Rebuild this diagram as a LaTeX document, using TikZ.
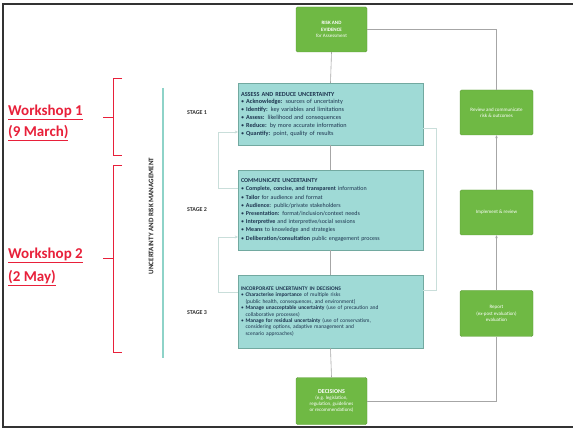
\documentclass[tikz,border=0pt]{standalone}
\usepackage{fontspec}
\setmainfont{Carlito}
\usetikzlibrary{arrows.meta}
\definecolor{grn}{HTML}{6FB944}
\definecolor{tealbox}{HTML}{9FDAD6}
\definecolor{tealline}{HTML}{8ED3C8}
\definecolor{navy}{HTML}{1E3550}
\definecolor{wsred}{HTML}{E8203A}
\definecolor{faint}{HTML}{C9DEDA}
\tikzset{
  greenbox/.style={draw=grn!85!black, line width=0.4pt, fill=grn, rounded corners=1.5pt,
    text=white, align=center, font=\fontsize{5}{6.2}\selectfont, inner sep=2pt},
  stagebox/.style={draw=tealline!80!black, line width=0.3pt, fill=tealbox, align=left,
    text=navy, font=\fontsize{6.2}{7.8}\selectfont, inner sep=3pt, anchor=center},
  conn/.style={draw=gray!70, line width=0.6pt},
  fb/.style={draw=faint, line width=0.8pt},
  redbr/.style={draw=wsred, line width=0.9pt},
  wstext/.style={text=wsred, font=\fontsize{15}{17}\selectfont\bfseries, anchor=west, inner sep=0pt},
  stagelbl/.style={font=\fontsize{6}{7}\selectfont\bfseries, text=black!80},
}
\begin{document}
\begin{tikzpicture}[x=1pt,y=-1pt]
\useasboundingbox (0,0) rectangle (573,430);
\fill[white] (0,0) rectangle (573,430);
% frame
\draw[black!80, line width=1.2pt] (573,4) -- (3,4) -- (3,427) -- (573,427);

% green boxes
\node[greenbox, minimum width=71pt, minimum height=45pt] (top) at (331.5,29.5)
  {\textbf{RISK AND}\\\textbf{EVIDENCE}\\for Assessment};
\node[greenbox, minimum width=71pt, minimum height=47pt] (bot) at (331.5,401)
  {{\fontsize{6}{7}\selectfont\textbf{DECISIONS}}\\(e.g. legislation,\\regulation, guidelines\\or recommendations)};
\node[greenbox, minimum width=73pt, minimum height=45pt] (r1) at (496.5,112.5)
  {Review and communicate\\risk \& outcomes};
\node[greenbox, minimum width=73pt, minimum height=45pt] (r2) at (496.5,212.5)
  {Implement \& review};
\node[greenbox, minimum width=73pt, minimum height=46pt] (r3) at (496.5,313.5)
  {Report\\(ex-post evaluation)\\evaluation};

% stage boxes
\node[stagebox, text width=179pt, minimum height=62pt] (s1) at (330.5,114)
  {\textbf{ASSESS AND REDUCE UNCERTAINTY}\\
   \textbullet\ \textbf{Acknowledge:} sources of uncertainty\\
   \textbullet\ \textbf{Identify:} key variables and limitations\\
   \textbullet\ \textbf{Assess:} likelihood and consequences\\
   \textbullet\ \textbf{Reduce:} by more accurate information\\
   \textbullet\ \textbf{Quantify:} point, quality of results\\[3pt]};
\node[stagebox, text width=179pt, minimum height=80pt, font=\fontsize{6}{8.2}\selectfont] (s2) at (330.5,210)
  {\textbf{COMMUNICATE UNCERTAINTY}\\
   \textbullet\ \textbf{Complete, concise, and transparent} information\\
   \textbullet\ \textbf{Tailor} for audience and format\\
   \textbullet\ \textbf{Audience:} public/private stakeholders\\
   \textbullet\ \textbf{Presentation:} format/inclusion/context needs\\
   \textbullet\ \textbf{Interpretive} and interpretive/social sessions\\
   \textbullet\ \textbf{Means} to knowledge and strategies\\
   \textbullet\ \textbf{Deliberation/consultation} public engagement process\\[2pt]};
\node[stagebox, text width=179pt, minimum height=73pt, font=\fontsize{5.5}{6.4}\selectfont] (s3) at (330.5,311.5)
  {\textbf{INCORPORATE UNCERTAINTY IN DECISIONS}\\
   \textbullet\ \textbf{Characterise importance} of multiple risks\\
   \phantom{\textbullet\ }(public health, consequences, and environment)\\
   \textbullet\ \textbf{Manage unacceptable uncertainty} (use of precaution and\\
   \phantom{\textbullet\ }collaborative processes)\\
   \textbullet\ \textbf{Manage for residual uncertainty} (use of conservatism,\\
   \phantom{\textbullet\ }considering options, adaptive management and\\
   \phantom{\textbullet\ }scenario approaches)\\[3pt]};

% main flow connectors
\draw[conn] (top.south) -- (s1.north);
\draw[conn] (s1.south) -- (s2.north);
\draw[conn] (s2.south) -- (s3.north);
\draw[conn] (s3.south) -- (bot.north);
\draw[conn] (bot.east) -| (r3.south);
\draw[conn, -{Stealth[length=3pt,width=2.5pt]}] (r3.north) -- (r2.south);
\draw[conn, -{Stealth[length=3pt,width=2.5pt]}] (r2.north) -- (r1.south);
\draw[conn] (r1.north) |- (top.east);

% faint feedback lines
\coordinate (l1) at (218,132);
\coordinate (l2) at (218,188);
\coordinate (l3) at (218,237);
\coordinate (l4) at (218,292);
\draw[fb, -{Stealth[length=3pt,width=3pt]}] (s2.west |- l2) -- (l2) -- (l1) -- (s1.west |- l1);
\draw[fb, -{Stealth[length=3pt,width=3pt]}] (s3.west |- l4) -- (l4) -- (l3) -- (s2.west |- l3);
\coordinate (q1) at (436,128);
\coordinate (q2) at (436,290);
\draw[fb] (s1.east |- q1) -- (q1) -- (q2) -- (s3.east |- q2);

% left teal rail and labels
\coordinate (railtop) at (163,88);
\coordinate (railbot) at (163,358);
\draw[draw=tealline, line width=2pt] (railtop) -- (railbot);
\node[rotate=90, font=\fontsize{7}{8}\selectfont\bfseries, text=black!85] (urm) at (151,216)
  {UNCERTAINTY AND RISK MANAGEMENT};
\node[stagelbl] (st1) at (197,113) {STAGE 1};
\node[stagelbl] (st2) at (197,210) {STAGE 2};
\node[stagelbl] (st3) at (197,313) {STAGE 3};

% red brackets
\draw[redbr] (122,78) -- (113,78) -- (113,155) -- (122,155);
\draw[redbr] (103,117) -- (113,117);
\draw[redbr] (122,165) -- (113,165) -- (113,352) -- (122,352);
\draw[redbr] (103,258) -- (113,258);

\node[wstext] (w1a) at (8,112) {\underline{Workshop 1}};
\node[wstext] (w1b) at (8,133) {\underline{(9 March)}};
\node[wstext] (w2a) at (8,255) {\underline{Workshop 2}};
\node[wstext] (w2b) at (8,278) {\underline{(2 May)}};
\end{tikzpicture}
\end{document}
